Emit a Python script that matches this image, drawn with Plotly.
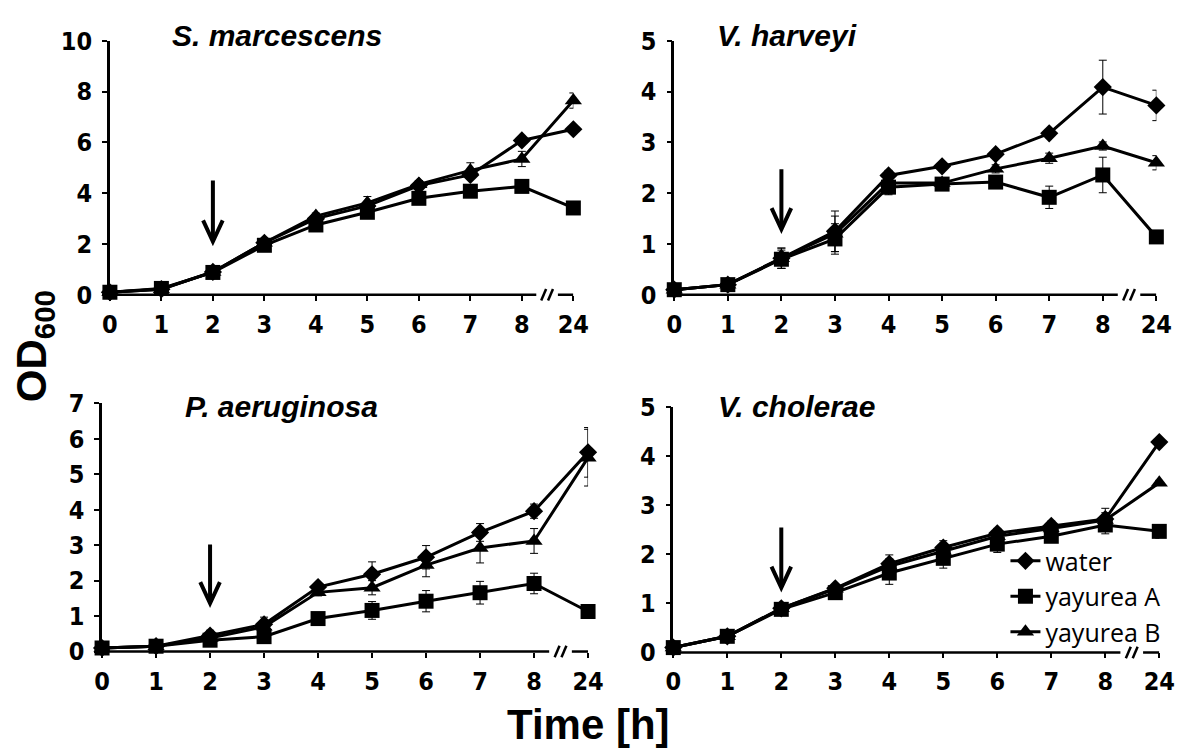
import plotly.graph_objects as go

W, H = 1189, 755

time_labels = ["0", "1", "2", "3", "4", "5", "6", "7", "8", "24"]
series_names = ["water", "yayurea A", "yayurea B"]
series_symbols = ["diamond", "square", "triangle-up"]
series_sizes = [14, 15, 15]

# S. marcescens
sm_water = [0.10, 0.22, 0.90, 2.05, 3.00, 3.50, 4.30, 4.72, 6.08, 6.52]
sm_water_err = [0.02, 0.03, 0.05, 0.10, 0.12, 0.15, 0.15, 0.15, 0.15, 0.10]
sm_A = [0.10, 0.25, 0.88, 1.95, 2.75, 3.25, 3.80, 4.08, 4.27, 3.42]
sm_A_err = [0.02, 0.03, 0.05, 0.10, 0.12, 0.15, 0.12, 0.12, 0.12, 0.10]
sm_B = [0.10, 0.22, 0.90, 2.05, 3.10, 3.62, 4.35, 4.90, 5.35, 7.65]
sm_B_err = [0.02, 0.03, 0.05, 0.10, 0.12, 0.25, 0.15, 0.30, 0.30, 0.30]

# V. harveyi
vh_water = [0.10, 0.20, 0.72, 1.25, 2.35, 2.53, 2.77, 3.18, 4.09, 3.73]
vh_water_err = [0.02, 0.03, 0.20, 0.40, 0.10, 0.06, 0.06, 0.06, 0.53, 0.30]
vh_A = [0.10, 0.20, 0.70, 1.10, 2.12, 2.18, 2.22, 1.92, 2.36, 1.14]
vh_A_err = [0.02, 0.03, 0.18, 0.30, 0.15, 0.08, 0.08, 0.22, 0.35, 0.07]
vh_B = [0.10, 0.20, 0.72, 1.20, 2.20, 2.20, 2.48, 2.69, 2.93, 2.60]
vh_B_err = [0.02, 0.03, 0.20, 0.35, 0.12, 0.08, 0.08, 0.10, 0.08, 0.14]

# P. aeruginosa
pa_water = [0.10, 0.15, 0.45, 0.77, 1.82, 2.18, 2.66, 3.36, 3.96, 5.62]
pa_water_err = [0.02, 0.03, 0.15, 0.20, 0.08, 0.35, 0.33, 0.25, 0.20, 0.70]
pa_A = [0.10, 0.15, 0.32, 0.42, 0.93, 1.16, 1.42, 1.66, 1.92, 1.13]
pa_A_err = [0.02, 0.03, 0.05, 0.05, 0.06, 0.25, 0.30, 0.32, 0.29, 0.10]
pa_B = [0.10, 0.15, 0.38, 0.70, 1.67, 1.80, 2.44, 2.92, 3.12, 5.47]
pa_B_err = [0.02, 0.03, 0.10, 0.15, 0.10, 0.20, 0.33, 0.42, 0.35, 0.80]

# V. cholerae
vc_water = [0.10, 0.33, 0.90, 1.31, 1.81, 2.14, 2.43, 2.58, 2.72, 4.29]
vc_water_err = [0.02, 0.03, 0.04, 0.06, 0.18, 0.14, 0.10, 0.10, 0.22, 0.05]
vc_A = [0.10, 0.33, 0.88, 1.22, 1.62, 1.92, 2.21, 2.37, 2.60, 2.47]
vc_A_err = [0.02, 0.03, 0.04, 0.06, 0.23, 0.20, 0.17, 0.12, 0.18, 0.14]
vc_B = [0.10, 0.33, 0.90, 1.30, 1.76, 2.07, 2.37, 2.53, 2.70, 3.46]
vc_B_err = [0.02, 0.03, 0.04, 0.06, 0.15, 0.12, 0.10, 0.10, 0.15, 0.05]

panel_titles = ["S. marcescens", "V. harveyi", "P. aeruginosa", "V. cholerae"]
panel_ymax = [10, 5, 7, 5]
panel_dtick = [2, 1, 1, 1]
# arrow (addition of compound) at t = 2 h: top and tip values in OD units
arrow_time_index = 2
arrow_top = [4.5, 2.47, 3.02, 2.55]
arrow_tip = [2.1, 1.29, 1.36, 1.32]

panel_values = [
    (sm_water, sm_A, sm_B),
    (vh_water, vh_A, vh_B),
    (pa_water, pa_A, pa_B),
    (vc_water, vc_A, vc_B),
]
panel_errors = [
    (sm_water_err, sm_A_err, sm_B_err),
    (vh_water_err, vh_A_err, vh_B_err),
    (pa_water_err, pa_A_err, pa_B_err),
    (vc_water_err, vc_A_err, vc_B_err),
]

# layout (pixel boxes of plot areas)
panel_px_x = [(104, 577), (680, 1172), (96, 592), (679, 1175)]
panel_px_y = [(28, 292), (28, 292), (405, 663), (409, 664)]
title_px = [(165, 22), (722, 22), (179, 408), (723, 408)]

FONT = "Liberation Sans, Arial, sans-serif"
TICKFONT = "Liberation Sans Narrow, Arial Narrow, DejaVu Sans Condensed, sans-serif"
x_pos = list(range(len(time_labels)))
xmax = len(time_labels) - 1

fig = go.Figure()
layout = dict(
    width=W, height=H,
    margin=dict(l=0, r=0, t=0, b=0),
    paper_bgcolor="white", plot_bgcolor="white",
    showlegend=True,
    legend=dict(x=1018 / W, y=1 - 545 / H, xanchor="left", yanchor="top",
                bgcolor="rgba(0,0,0,0)", font=dict(family="Open Sans, sans-serif", size=25, color="black"),
                tracegroupgap=0, itemwidth=30),
)
shapes = []
annotations = []

for p in range(4):
    ax = "" if p == 0 else str(p + 1)
    xref, yref = "x" + ax, "y" + ax
    ydomref = yref + " domain"
    x0, x1 = panel_px_x[p]
    y0, y1 = panel_px_y[p]
    xdom = [x0 / W, x1 / W]
    ydom = [1 - y1 / H, 1 - y0 / H]
    ymax = panel_ymax[p]
    ux = xmax / (x1 - x0)       # data units per px (x)
    uy = ymax / (y1 - y0)       # data units per px (y)
    ud = 1.0 / (y1 - y0)        # domain units per px (y)

    for s in range(3):
        fig.add_trace(go.Scatter(
            x=x_pos, y=panel_values[p][s], xaxis=xref, yaxis=yref,
            mode="lines+markers", name=series_names[s],
            showlegend=(p == 3), legendrank=s,
            line=dict(color="black", width=3),
            marker=dict(symbol=series_symbols[s], size=series_sizes[s], color="black"),
            error_y=dict(type="data", array=panel_errors[p][s], color="black", thickness=1, width=4),
            cliponaxis=False,
        ))

    tickfont = dict(family=TICKFONT, size=25, color="black", weight="bold")
    layout["xaxis" + ax] = dict(
        domain=xdom, anchor=yref, range=[0, xmax],
        tickmode="array", tickvals=x_pos, ticktext=time_labels,
        ticks="outside", ticklen=5, tickwidth=2, tickcolor="black",
        showline=False, showgrid=False, zeroline=False,
        tickfont=tickfont, ticklabelstandoff=2, fixedrange=True,
    )
    layout["yaxis" + ax] = dict(
        domain=ydom, anchor=xref, range=[0, ymax], dtick=panel_dtick[p], tick0=0,
        ticks="outside", ticklen=5, tickwidth=2, tickcolor="black",
        showline=True, linecolor="black", linewidth=2.5,
        showgrid=False, zeroline=False,
        tickfont=tickfont, ticklabelstandoff=5, fixedrange=True,
    )

    # broken x axis line (with "//" break marks)
    brk_a, brk_b = xmax - 0.72, xmax - 0.3
    shapes.append(dict(type="line", xref=xref, yref=ydomref, x0=0, x1=brk_a, y0=0, y1=0,
                       line=dict(color="black", width=2.5)))
    shapes.append(dict(type="line", xref=xref, yref=ydomref, x0=brk_b, x1=xmax, y0=0, y1=0,
                       line=dict(color="black", width=2.5)))
    mid = (brk_a + brk_b) / 2
    for k in (-1, 1):
        cx = mid + k * 3.5 * ux
        shapes.append(dict(type="line", xref=xref, yref=ydomref,
                           x0=cx - 2.5 * ux, y0=-6 * ud, x1=cx + 2.5 * ux, y1=6 * ud,
                           line=dict(color="black", width=2.5)))

    # arrow
    ax_x = x_pos[arrow_time_index]
    top, tip = arrow_top[p], arrow_tip[p]
    shapes.append(dict(type="line", xref=xref, yref=yref, x0=ax_x, x1=ax_x, y0=top, y1=tip + 2 * uy,
                       line=dict(color="black", width=4)))
    hx, hy = 10 * ux, 22 * uy
    path = f"M {ax_x - hx},{tip + hy} L {ax_x},{tip} L {ax_x + hx},{tip + hy}"
    shapes.append(dict(type="path", xref=xref, yref=yref, path=path,
                       line=dict(color="black", width=4)))

    # panel title
    tx, ty = title_px[p]
    annotations.append(dict(xref="paper", yref="paper", x=tx / W, y=1 - ty / H,
                            text=panel_titles[p], showarrow=False, xanchor="left", yanchor="middle",
                            font=dict(family=FONT, size=30, color="black", weight="bold", style="italic")))

annotations.append(dict(xref="paper", yref="paper", x=27 / W, y=1 - 345 / H,
                        text="OD<sub>600</sub>", showarrow=False, textangle=-90,
                        xanchor="center", yanchor="middle",
                        font=dict(family=FONT, size=42, color="black", weight="bold")))
annotations.append(dict(xref="paper", yref="paper", x=592 / W, y=1 - 739 / H,
                        text="Time [h]", showarrow=False, xanchor="center", yanchor="middle",
                        font=dict(family=FONT, size=42, color="black", weight="bold")))

layout["shapes"] = shapes
layout["annotations"] = annotations
fig.update_layout(**layout)
fig.write_html("out.html")
